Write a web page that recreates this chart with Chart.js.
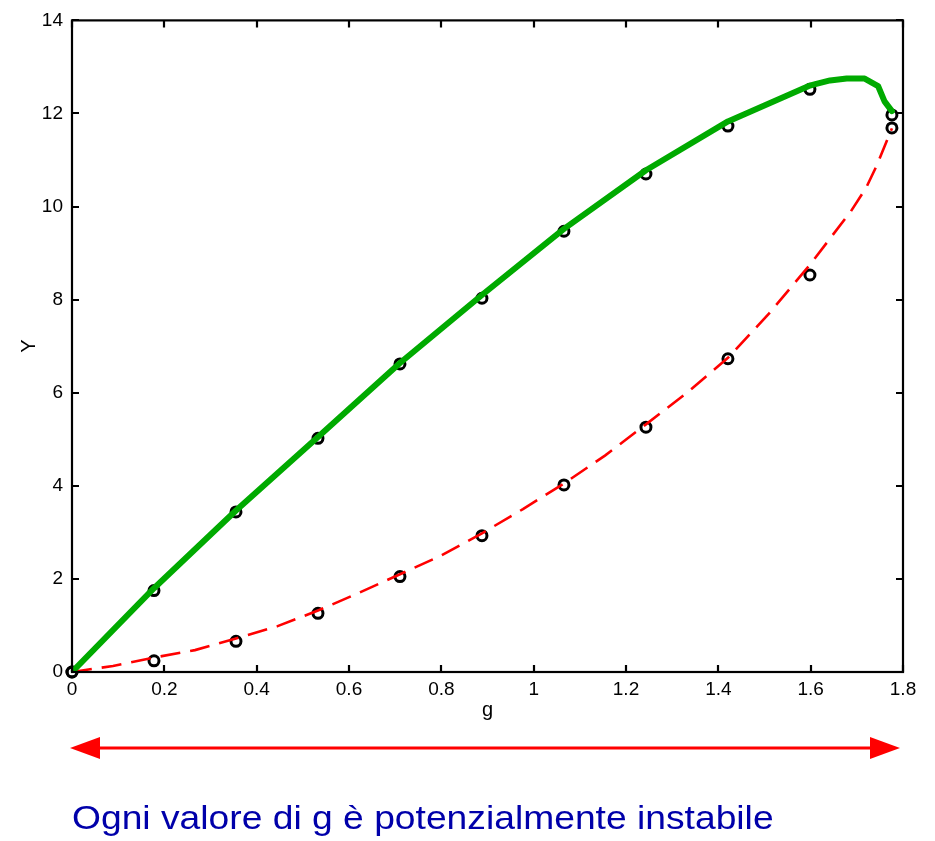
<!DOCTYPE html>
<html><head><meta charset="utf-8">
<script src="https://cdn.jsdelivr.net/npm/chart.js@4.4.1/dist/chart.umd.min.js"></script>
<style>
html,body{margin:0;padding:0;background:#fff;}
#wrap{position:relative;width:935px;height:841px;overflow:hidden;}
#c{position:absolute;left:0;top:0;}
#caption{position:absolute;left:72px;top:800px;font-family:"Liberation Sans",Arial,sans-serif;font-size:34px;line-height:34px;color:#0000aa;white-space:nowrap;transform:scaleX(1.095);transform-origin:left top;}
</style></head>
<body><div id="wrap"><canvas id="c" width="935" height="841"></canvas><div id="caption">Ogni valore di g è potenzialmente instabile</div></div>
<script>
// Tick values / labels
const xTicks = [0, 0.2, 0.4, 0.6, 0.8, 1, 1.2, 1.4, 1.6, 1.8];
const xTickLabels = ['0', '0.2', '0.4', '0.6', '0.8', '1', '1.2', '1.4', '1.6', '1.8'];
const yTicks = [0, 2, 4, 6, 8, 10, 12, 14];
const yTickLabels = ['0', '2', '4', '6', '8', '10', '12', '14'];

// Green solid curve
const greenX = [0, 0.1776, 0.3552, 0.5328, 0.7104, 0.888, 1.0656, 1.2432, 1.4208, 1.5984, 1.61, 1.642, 1.678, 1.717, 1.746, 1.76, 1.776];
const greenY = [0, 1.8, 3.47, 5.05, 6.64, 8.1, 9.52, 10.78, 11.83, 12.6, 12.63, 12.71, 12.75, 12.75, 12.59, 12.26, 12.05];

// Red dashed curve
const redX = [0, 0.0888, 0.1776, 0.2664, 0.3552, 0.444, 0.5328, 0.6216, 0.7104, 0.7992, 0.888, 0.9768, 1.0656, 1.1544, 1.2432, 1.332, 1.4208, 1.5096, 1.5984, 1.6872, 1.72, 1.743, 1.776];
const redY = [0, 0.13, 0.31, 0.47, 0.72, 0.98, 1.32, 1.7, 2.1, 2.5, 2.98, 3.5, 4.05, 4.65, 5.32, 6.0, 6.75, 7.7, 8.75, 9.9, 10.4, 10.88, 11.68];

// Circle markers
const markX = [0, 0.1776, 0.3552, 0.5328, 0.7104, 0.888, 1.0656, 1.2432, 1.4208, 1.5984, 1.776];
const markUpper = [0, 1.75, 3.44, 5.02, 6.62, 8.03, 9.47, 10.7, 11.73, 12.52, 11.97];
const markLower = [0, 0.24, 0.66, 1.26, 2.05, 2.93, 4.02, 5.26, 6.73, 8.53, 11.69];

const zip = (xs, ys) => xs.map((x, i) => ({x: x, y: ys[i]}));

const frame = {
  id: 'frame',
  afterDatasetsDraw(chart) {
    const {ctx, chartArea: a, scales: {x: xs, y: ys}} = chart;
    ctx.save();
    ctx.strokeStyle = '#000';
    ctx.lineWidth = 2.2;
    ctx.strokeRect(a.left, a.top, a.right - a.left, a.bottom - a.top);
    const tl = 7;
    ctx.beginPath();
    xTicks.forEach(v => {
      const p = Math.round(xs.getPixelForValue(v));
      ctx.moveTo(p, a.bottom); ctx.lineTo(p, a.bottom - tl);
      ctx.moveTo(p, a.top); ctx.lineTo(p, a.top + tl);
    });
    yTicks.forEach(v => {
      const p = Math.round(ys.getPixelForValue(v));
      ctx.moveTo(a.left, p); ctx.lineTo(a.left + tl, p);
      ctx.moveTo(a.right, p); ctx.lineTo(a.right - tl, p);
    });
    ctx.stroke();
    ctx.restore();
  },
  afterDraw(chart) {
    const {ctx, scales: {x: xs}} = chart;
    const yA = 748;
    const l = xs.getPixelForValue(0) - 2;
    const r = xs.getPixelForValue(1.8) - 3;
    const hl = 30, hw = 11;
    ctx.save();
    ctx.strokeStyle = '#ff0000';
    ctx.fillStyle = '#ff0000';
    ctx.lineWidth = 3;
    ctx.beginPath();
    ctx.moveTo(l + hl - 2, yA); ctx.lineTo(r - hl + 2, yA);
    ctx.stroke();
    ctx.beginPath();
    ctx.moveTo(l, yA); ctx.lineTo(l + hl, yA - hw); ctx.lineTo(l + hl, yA + hw); ctx.closePath();
    ctx.fill();
    ctx.beginPath();
    ctx.moveTo(r, yA); ctx.lineTo(r - hl, yA - hw); ctx.lineTo(r - hl, yA + hw); ctx.closePath();
    ctx.fill();
    ctx.restore();
  }
};

const tickFont = {family: '"Liberation Sans", Arial, sans-serif', size: 19};
const titleFont = {family: '"Liberation Sans", Arial, sans-serif', size: 20};

new Chart(document.getElementById('c').getContext('2d'), {
  type: 'scatter',
  data: {
    datasets: [
      {label: 'green', data: zip(greenX, greenY), showLine: true, borderColor: '#00aa00', borderWidth: 6, pointRadius: 0, tension: 0, borderJoinStyle: 'round', borderCapStyle: 'round', order: 0},
      {label: 'red', data: zip(redX, redY), showLine: true, borderColor: '#ff0000', borderWidth: 2.6, borderDash: [20, 10], pointRadius: 0, tension: 0, order: 1},
      {label: 'upper', data: zip(markX, markUpper), showLine: false, pointRadius: 5, pointBorderWidth: 3, pointBorderColor: '#000', pointBackgroundColor: 'rgba(0,0,0,0)', clip: false, order: 2},
      {label: 'lower', data: zip(markX, markLower), showLine: false, pointRadius: 5, pointBorderWidth: 3, pointBorderColor: '#000', pointBackgroundColor: 'rgba(0,0,0,0)', clip: false, order: 2}
    ]
  },
  options: {
    responsive: false,
    animation: false,
    events: [],
    layout: {padding: {left: 0, right: 32, top: 17, bottom: 119}},
    plugins: {legend: {display: false}, tooltip: {enabled: false}},
    scales: {
      x: {
        type: 'linear', min: 0, max: 1.8,
        afterBuildTicks: s => { s.ticks = xTicks.map(v => ({value: v})); },
        afterFit: s => { s.height = 50; },
        grid: {display: false, drawTicks: false},
        border: {display: false},
        ticks: {font: tickFont, color: '#000', padding: 6, maxRotation: 0, autoSkip: false, callback: (v, i) => xTickLabels[i]},
        title: {display: true, text: 'g', font: titleFont, color: '#000', padding: {top: 0, bottom: 0}}
      },
      y: {
        type: 'linear', min: 0, max: 14,
        afterBuildTicks: s => { s.ticks = yTicks.map(v => ({value: v})); },
        afterFit: s => { s.width = 72; },
        grid: {display: false, drawTicks: false},
        border: {display: false},
        ticks: {font: tickFont, color: '#000', padding: 9, autoSkip: false, callback: (v, i) => yTickLabels[i]},
        title: {display: true, text: 'Y', font: titleFont, color: '#000', padding: {top: 17, bottom: 0}}
      }
    }
  },
  plugins: [frame]
});
</script>
</body></html>
